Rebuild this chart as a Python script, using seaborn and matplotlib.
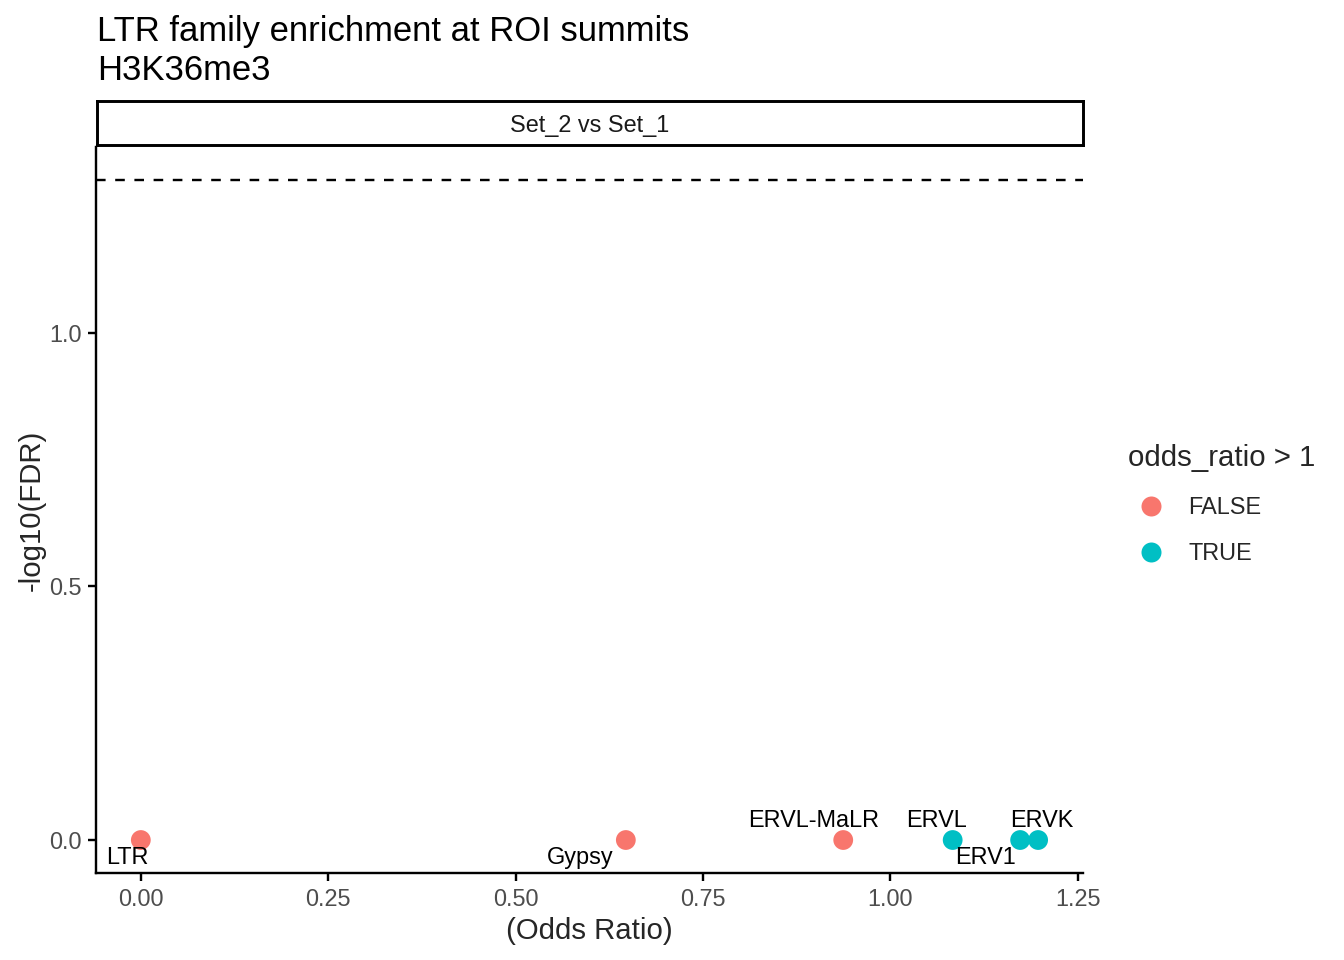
import numpy as np
import pandas as pd
import matplotlib
matplotlib.use("Agg")
import matplotlib.pyplot as plt
import seaborn as sns

# data
families = ["LTR", "Gypsy", "ERVL-MaLR", "ERVL", "ERV1", "ERVK"]
odds_ratio = [0.0, 0.647, 0.937, 1.083, 1.173, 1.197]
neg_log_fdr = [0.0, 0.0, 0.0, 0.0, 0.0, 0.0]
fdr_cutoff = 0.05

# label offsets (points) mimicking ggrepel placement
label_dx = [-5, -17, -11, -6, -13, 1.5]
label_dy = [-6.5, -6.5, 7.5, 7.5, -6.5, 7.5]

df = pd.DataFrame({"family": families, "odds_ratio": odds_ratio, "nlf": neg_log_fdr})
df["enriched"] = np.where(df["odds_ratio"] > 1, "TRUE", "FALSE")

sns.set_theme(style="white")
plt.rcParams["font.family"] = ["Liberation Sans", "DejaVu Sans"]

fig = plt.figure(figsize=(7, 5), dpi=192)
ax = fig.add_axes([0.0714, 0.0906, 0.7344, 0.7564])

palette = {"FALSE": "#F8766D", "TRUE": "#00BFC4"}
sns.scatterplot(data=df, x="odds_ratio", y="nlf", hue="enriched", hue_order=["FALSE", "TRUE"],
                palette=palette, s=55, edgecolor="none", ax=ax, legend=False, zorder=3)

thr = -np.log10(fdr_cutoff)
ax.axhline(thr, color="black", linestyle=(0, (4, 4)), linewidth=0.9)

for fam, x, y, dx, dy in zip(families, odds_ratio, neg_log_fdr, label_dx, label_dy):
    ax.annotate(fam, (x, y), xytext=(dx, dy), textcoords="offset points",
                ha="center", va="center", fontsize=8.8, color="black")

xr = max(odds_ratio) - min(odds_ratio)
ax.set_xlim(min(odds_ratio) - 0.05 * xr, max(odds_ratio) + 0.05 * xr)
ymax = max(max(neg_log_fdr), thr)
ax.set_ylim(-0.05 * ymax, ymax * 1.05)

ax.set_xticks([0.0, 0.25, 0.5, 0.75, 1.0, 1.25])
ax.set_xticklabels(["0.00", "0.25", "0.50", "0.75", "1.00", "1.25"])
ax.set_yticks([0.0, 0.5, 1.0])
ax.set_yticklabels(["0.0", "0.5", "1.0"])

for side in ["top", "right"]:
    ax.spines[side].set_visible(False)
for side in ["left", "bottom"]:
    ax.spines[side].set_color("black")
    ax.spines[side].set_linewidth(0.9)
ax.tick_params(axis="both", which="major", length=3, width=0.9, color="black",
               labelsize=8.8, labelcolor="#4D4D4D", pad=2.5, left=True, bottom=True)
ax.set_xlabel("(Odds Ratio)", fontsize=11, labelpad=2.5)
ax.set_ylabel("-log10(FDR)", fontsize=11, labelpad=1)

# facet strip
strip = fig.add_axes([0.0722, 0.849, 0.7336, 0.0455])
strip.set_xticks([])
strip.set_yticks([])
for sp in strip.spines.values():
    sp.set_visible(True)
    sp.set_color("black")
    sp.set_linewidth(1.1)
strip.text(0.5, 0.45, "Set_2 vs Set_1", ha="center", va="center", fontsize=8.8,
           color="#1A1A1A", transform=strip.transAxes)

fig.text(0.0722, 0.984, "LTR family enrichment at ROI summits\nH3K36me3",
         ha="left", va="top", fontsize=13, linespacing=1.2, color="black")

# legend
handles = [plt.Line2D([], [], marker="o", linestyle="none", markersize=7.5,
                      markerfacecolor=palette[k], markeredgecolor="none") for k in ["FALSE", "TRUE"]]
leg = fig.legend(handles, ["FALSE", "TRUE"], title="odds_ratio > 1", loc="center left",
                 bbox_to_anchor=(0.832, 0.474), frameon=False, fontsize=8.8,
                 title_fontsize=11, handletextpad=0.6, labelspacing=1.0, borderaxespad=0)
leg._legend_box.align = "left"

fig.savefig("out.png", dpi=192)
